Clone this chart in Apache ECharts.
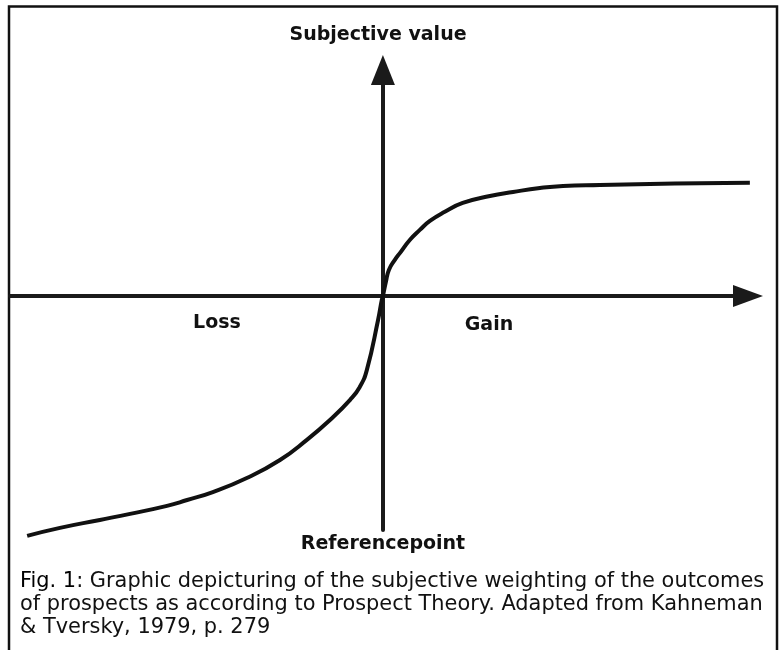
<!DOCTYPE html>
<html>
<head>
<meta charset="utf-8">
<script src="https://cdn.jsdelivr.net/npm/echarts@6/dist/echarts.min.js"></script>
<style>
  html, body { margin: 0; padding: 0; background: #fff; }
  #chart { width: 779px; height: 650px; }
</style>
</head>
<body>
<div id="chart"></div>
<script>
// outcome relative to the reference point (loss < 0 < gain)
const outcome = [-95.4, -86.6, -75.9, -67.8, -57.9, -52.5, -45.6, -36.5, -27.6, -20.4,
  -14.2, -8.8, -6.2, -4.3, -1.3, -0.3, 0, 0.8, 1.6, 3.2, 4.6, 7.2, 9.9,
  12.6, 16.6, 21.4, 28.7, 34.9, 42.1, 48.3, 58.2, 71.6, 85.0, 98.4]
// subjective value of each outcome
const value = [-102.5, -99.1, -95.7, -93.1, -89.7, -87.2, -83.8, -77.8, -70.1, -61.5,
  -53.0, -44.4, -38.9, -31.6, -10.3, -1.7, 0, 6.0, 11.1, 15.4, 18.4, 23.9, 28.2,
  32.0, 35.9, 39.7, 42.7, 44.4, 46.1, 47.0, 47.4, 47.8, 48.1, 48.3]

const captionLines = [
  '{fig|Fig. 1}: Graphic depicturing of the subjective weighting of the outcomes',
  'of prospects as according to Prospect Theory. Adapted from Kahneman',
  '& Tversky, 1979, p. 279'
]

const chart = echarts.init(document.getElementById('chart'))

const axisStyle = {
  show: true,
  onZero: true,
  symbol: ['none', 'triangle'],
  lineStyle: { color: '#1a1a1a', width: 4 }
}
const labelFont = { fontFamily: 'DejaVu Sans', fontWeight: 'bold', fontSize: 19, fill: '#111' }

const option = {
  backgroundColor: '#fff',
  animation: false,
  grid: { left: 10, right: 31, top: 70, bottom: 120 },
  xAxis: {
    type: 'value',
    min: -100,
    max: 97.9,
    axisLine: Object.assign({}, axisStyle, { symbolSize: [22, 30] }),
    axisTick: { show: false },
    axisLabel: { show: false },
    splitLine: { show: false }
  },
  yAxis: {
    type: 'value',
    min: -100,
    max: 96.5,
    axisLine: Object.assign({}, axisStyle, { symbolSize: [24, 30] }),
    axisTick: { show: false },
    axisLabel: { show: false },
    splitLine: { show: false }
  },
  series: [{
    type: 'line',
    data: outcome.map((x, i) => [x, value[i]]),
    smooth: 0.5,
    clip: false,
    showSymbol: false,
    lineStyle: { color: '#111', width: 4 }
  }],
  graphic: [
    {
      type: 'rect',
      shape: { x: 9, y: 6.5, width: 768, height: 700 },
      style: { fill: 'none', stroke: '#111', lineWidth: 2.5 }
    },
    { type: 'text', x: 378, y: 35, style: Object.assign({ text: 'Subjective value', align: 'center', verticalAlign: 'middle' }, labelFont) },
    { type: 'text', x: 217, y: 323, style: Object.assign({ text: 'Loss', align: 'center', verticalAlign: 'middle' }, labelFont) },
    { type: 'text', x: 489, y: 325, style: Object.assign({ text: 'Gain', align: 'center', verticalAlign: 'middle' }, labelFont) },
    { type: 'text', x: 383, y: 544, style: Object.assign({ text: 'Referencepoint', align: 'center', verticalAlign: 'middle' }, labelFont) },
    {
      type: 'text',
      x: 20,
      y: 570,
      style: {
        text: captionLines.join('\n'),
        fontFamily: 'DejaVu Sans',
        fontSize: 20.9,
        lineHeight: 23,
        fill: '#111',
        rich: {
          fig: { fontFamily: 'DejaVu Sans', fontSize: 20.9, fill: '#000', textStroke: '#000', textStrokeWidth: 0.6 }
        }
      }
    }
  ]
}

chart.setOption(option)
</script>
</body>
</html>
